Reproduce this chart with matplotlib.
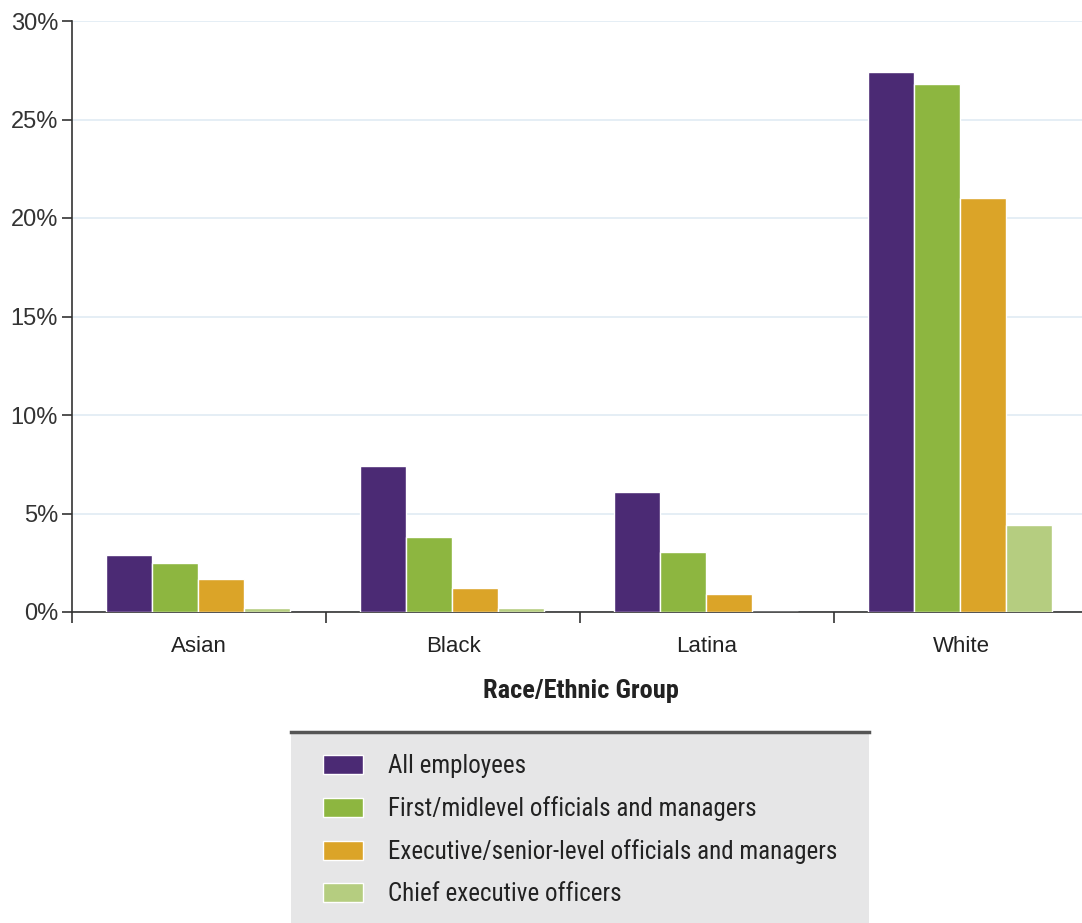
import matplotlib
matplotlib.use("Agg")
import numpy as np
import matplotlib.pyplot as plt
from matplotlib.patches import Rectangle, Patch
from matplotlib.lines import Line2D
from matplotlib.ticker import FuncFormatter

groups = ["Asian", "Black", "Latina", "White"]
series = [
    "All employees",
    "First/midlevel officials and managers",
    "Executive/senior-level officials and managers",
    "Chief executive officers",
]
all_employees = [2.9, 7.4, 6.1, 27.4]
first_mid = [2.5, 3.8, 3.05, 26.8]
exec_senior = [1.7, 1.2, 0.9, 21.0]
ceo = [0.2, 0.2, 0.0, 4.4]
colors = ["#4b2a74", "#8db640", "#dba428", "#b5cd80"]

plt.rcParams["font.family"] = ["Roboto Condensed", "Liberation Sans", "DejaVu Sans"]
tick_font = ["Liberation Sans", "DejaVu Sans"]

fig = plt.figure(figsize=(10.82, 9.23), dpi=100)
ax = fig.add_axes([72 / 1082, 1 - 612 / 923, 1016 / 1082, 591 / 923])

x = np.arange(len(groups))
step = 0.182
values = [all_employees, first_mid, exec_senior, ceo]
for i, (vals, col) in enumerate(zip(values, colors)):
    ax.bar(x + (i - 1.5) * step - 0.004, vals, width=step, color=col,
           edgecolor="white", linewidth=1.0, zorder=3)

ax.set_xlim(-0.5, 3.5)
ax.set_ylim(0, 30)
ax.set_yticks(np.arange(0, 31, 5))
ax.yaxis.set_major_formatter(FuncFormatter(lambda v, p: f"{int(v)}%"))
ax.tick_params(axis="y", length=7, width=1.2, colors="#333333",
               labelcolor="#333333", pad=3)
ax.grid(axis="y", color="#e3edf5", linewidth=1.3, zorder=0)

ax.set_xticks(x)
ax.set_xticklabels(groups)
ax.tick_params(axis="x", which="major", length=0, pad=17, labelcolor="#222222")
ax.set_xticks([-0.5, 0.5, 1.5, 2.5], minor=True)
ax.tick_params(axis="x", which="minor", length=8, width=1.2, color="#333333")
for lab in ax.get_xticklabels():
    lab.set_family(tick_font)
    lab.set_fontsize(16)
for lab in ax.get_yticklabels():
    lab.set_family(tick_font)
    lab.set_fontsize(17)

for s in ["top", "right"]:
    ax.spines[s].set_visible(False)
ax.spines["left"].set_color("#333333")
ax.spines["bottom"].set_color("#333333")
ax.spines["left"].set_linewidth(1.2)
ax.spines["bottom"].set_linewidth(1.2)

fig.text(581 / 1082, 1 - 691 / 923, "Race/Ethnic Group", ha="center", va="center",
         fontsize=19, fontweight="bold", color="#222222")

# legend box
fig.patches.append(Rectangle((291 / 1082, 0), (869 - 291) / 1082, 1 - 731 / 923,
                             transform=fig.transFigure, facecolor="#e6e6e7",
                             edgecolor="none", zorder=0))
fig.lines.append(Line2D([291 / 1082, 869 / 1082], [1 - 732 / 923] * 2,
                        transform=fig.transFigure, color="#555555", linewidth=2.5))

handles = [Patch(facecolor=c, edgecolor="white", linewidth=1.0) for c in colors]
leg = fig.legend(handles, series, loc="upper left",
                 bbox_to_anchor=(300 / 1082, 1 - 732 / 923), frameon=False,
                 fontsize=18, handlelength=1.6, handleheight=0.8,
                 handletextpad=1.0, labelspacing=0.72, labelcolor="#222222")

fig.savefig("out.png", dpi=100)
